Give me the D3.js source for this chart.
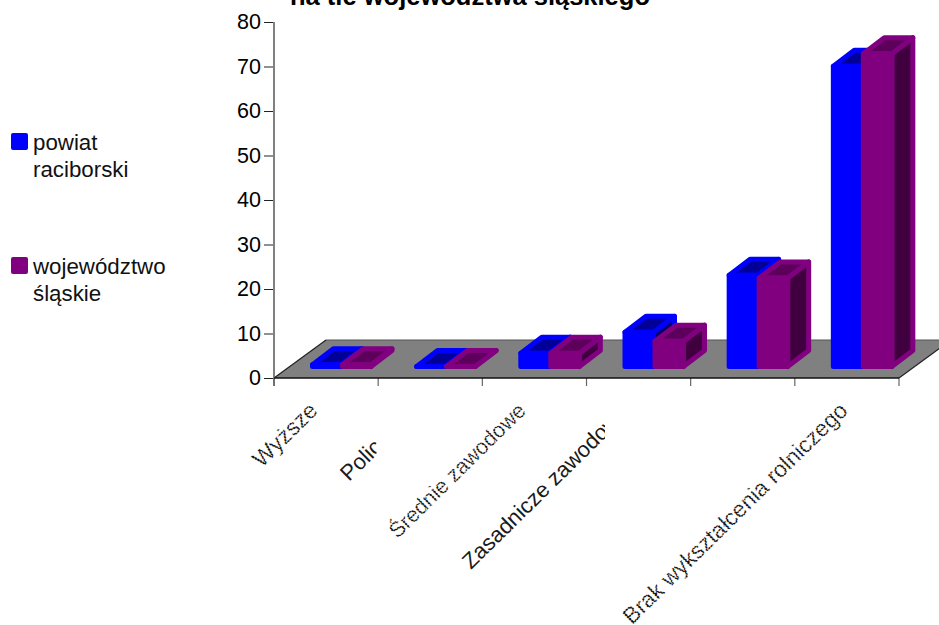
<!DOCTYPE html>
<html><head><meta charset="utf-8">
<script src="https://cdn.jsdelivr.net/npm/d3@7"></script>
<style>html,body{margin:0;padding:0;background:#fff;overflow:hidden}svg{display:block}text{font-family:"Liberation Sans",Arial,sans-serif}</style>
</head><body><svg id="c" width="939" height="625"></svg>
<script>
const categoryLabels = ["Wyższe","Policealne","Średnie zawodowe","Zasadnicze zawodowe","Brak wykształcenia rolniczego"];
const seriesNames = ["powiat raciborski","województwo śląskie"];
const powiat = [1.4,1.0,4.0,8.7,21.5,68.5];
const slaskie = [1.4,1.0,4.0,6.7,20.9,71.3];
const yTicks = [0,10,20,30,40,50,60,70,80];
const colors = ["#0000ff","#800080"];
const topColors = ["#000099","#5c005c"];
const sideColors = ["#000066","#400040"];

const svg = d3.select("#c");
const y = d3.scaleLinear().domain([0,80]).range([378,22]);
const x = d3.scaleBand().domain(d3.range(6)).range([274,899]);
const inner = d3.scaleBand().domain([0,1]).range([36,96]);
const depthX = 52, depthY = 38, barDX = 21, barDY = 16, baseShift = 9;
const line = d3.line();

// floor
const x0 = x.range()[0], x1 = x.range()[1], y0 = y(0);
svg.append("path").attr("d", line([[x0,y0],[x0+depthX,y0-depthY],[x1+depthX,y0-depthY],[x1,y0]])+"Z")
  .attr("fill","#808080");
svg.append("path").attr("d", line([[x0+depthX,y0-depthY],[x1+depthX,y0-depthY]]))
  .attr("stroke","#555").attr("stroke-width",1.2).attr("fill","none");
svg.append("path").attr("d", line([[x0,y0],[x0+depthX,y0-depthY]])).attr("stroke","#222").attr("stroke-width",1.2);
svg.append("path").attr("d", line([[x1,y0],[x1+depthX,y0-depthY]])).attr("stroke","#222").attr("stroke-width",1.2);

// axes
const ax = svg.append("g").attr("transform","translate(274,0)")
  .call(d3.axisLeft(y).tickValues(yTicks).tickSize(10).tickPadding(3));
ax.select(".domain").remove();
ax.selectAll("line").attr("stroke","#222").attr("stroke-width",1);
ax.selectAll("text").attr("font-size",21.5).attr("fill","#000").attr("font-family","Liberation Sans");
svg.append("path").attr("d", line([[x0,22],[x0,386]])).attr("stroke","#808080").attr("stroke-width",2);

const tickPositions = d3.range(7).map(i => x0 + i*x.step());
svg.append("g").selectAll("line").data(tickPositions).join("line")
  .attr("x1",d=>d).attr("x2",d=>d).attr("y1",y0).attr("y2",386)
  .attr("stroke","#666").attr("stroke-width",1.2);
svg.append("path").attr("d", line([[x0,y0],[x1,y0]])).attr("stroke","#111").attr("stroke-width",1.4);

// bars
const w = 31, sw = 5;
const rows = [];
d3.range(6).forEach(i => [powiat,slaskie].forEach((s,k) => rows.push({i,k,v:s[i]})));
const bars = svg.append("g").selectAll("g").data(rows).join("g")
  .attr("stroke",d=>colors[d.k]).attr("stroke-width",sw).attr("stroke-linejoin","round");
const L = d => x(d.i)+inner(d.k)+2.5, R = d => L(d)+w-2.5, B = () => y0-baseShift-2.5, T = d => y(d.v)-baseShift+2;
bars.append("path").attr("fill",d=>sideColors[d.k])
  .attr("d",d=>line([[R(d),T(d)],[R(d)+barDX,T(d)-barDY],[R(d)+barDX,B()-barDY],[R(d),B()]])+"Z");
bars.append("path").attr("fill",d=>topColors[d.k])
  .attr("d",d=>line([[L(d),T(d)],[L(d)+barDX,T(d)-barDY],[R(d)+barDX,T(d)-barDY],[R(d),T(d)]])+"Z");
bars.append("path").attr("fill",d=>colors[d.k])
  .attr("d",d=>line([[L(d),T(d)],[R(d),T(d)],[R(d),B()],[L(d),B()]])+"Z");

// title (cropped by the page top, as in the reference)
svg.append("text").attr("x",470).attr("y",5).attr("text-anchor","middle")
  .attr("font-size",25.5).attr("font-weight","bold").attr("fill","#000").text("na tle województwa śląskiego");

// legend
const legendY = [133,257];
const legendLines = [["powiat","raciborski"],["województwo","śląskie"]];
const lg = svg.append("g").selectAll("g").data(seriesNames).join("g");
lg.append("rect").attr("x",11).attr("y",(d,i)=>legendY[i]).attr("width",17).attr("height",17).attr("rx",2)
  .attr("fill",(d,i)=>colors[i]);
lg.each(function(d,i){
  d3.select(this).selectAll("text").data(legendLines[i]).join("text")
    .attr("x",33).attr("y",(t,j)=>legendY[i]+17+j*27).attr("font-size",22.3).attr("fill","#111").text(t=>t);
});

// category labels: rotated, some clipped at the right, some rendered broken
const labelAnchor = [[319,412],[349,482],[527,412],[471,570],[849,412]];
const labelClip = [null,376.5,null,605,null];
const labelSize = [23,22,21.5,22,22.8];
const degraded = [true,false,true,false,true];
const defs = svg.append("defs");
categoryLabels.forEach((t,i)=>{
  defs.append("clipPath").attr("id","cl"+i).append("rect")
    .attr("x",0).attr("y",0).attr("height",625).attr("width",labelClip[i]||939);
  const g = svg.append("g").attr("clip-path",`url(#cl${i})`);
  const n = g.append("text").attr("transform",`translate(${labelAnchor[i][0]},${labelAnchor[i][1]}) rotate(-44.5)`)
    .attr("font-size",labelSize[i]).attr("fill",degraded[i]?"#111":"#1a1a1a")
    .attr("text-anchor", labelClip[i] ? "start" : "end").text(t);
  if(degraded[i]) n.attr("stroke","#fff").attr("stroke-width",1).attr("stroke-dasharray","1 2");
});
</script></body></html>
